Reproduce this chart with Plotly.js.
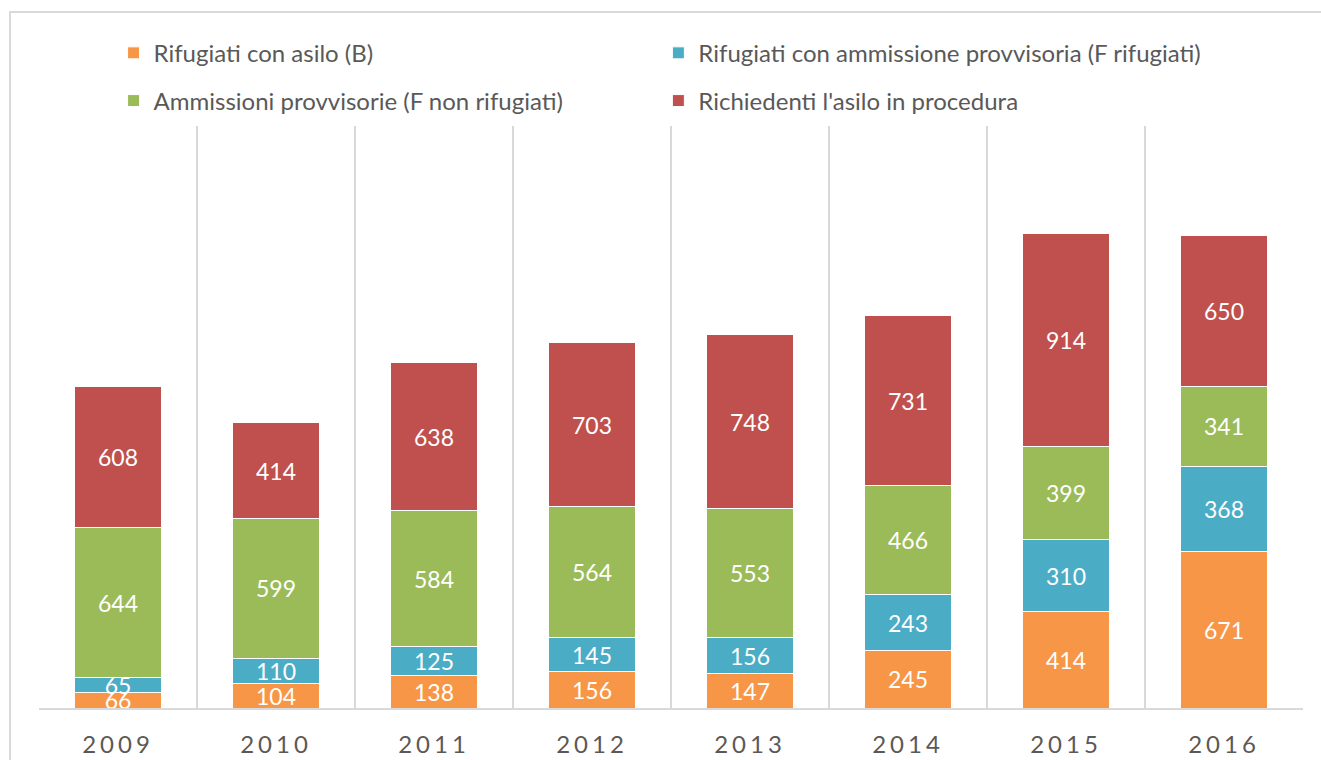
<!DOCTYPE html>
<html>
<head>
<meta charset="utf-8">
<script src="https://cdn.plot.ly/plotly-3.0.1.min.js"></script>
<style>
  html, body { margin: 0; padding: 0; background: #ffffff; overflow: hidden; }
  #frame { position: absolute; left: 9px; top: 11px; width: 1400px; height: 900px; border: 2px solid #d9d9d9; box-sizing: border-box; }
  #chart { position: absolute; left: 0; top: 0; width: 1321px; height: 760px; }
  .xaxislayer-above .xtick text { letter-spacing: 4px; }
</style>
</head>
<body>
<div id="frame"></div>
<div id="chart"></div>
<script>
const years = ['2009', '2010', '2011', '2012', '2013', '2014', '2015', '2016'];
const rifugiatiAsilo = [66, 104, 138, 156, 147, 245, 414, 671];
const rifugiatiAmmissione = [65, 110, 125, 145, 156, 243, 310, 368];
const ammissioniProvvisorie = [644, 599, 584, 564, 553, 466, 399, 341];
const richiedentiAsilo = [608, 414, 638, 703, 748, 731, 914, 650];
const seriesNames = [
  'Rifugiati con asilo (B)',
  'Rifugiati con ammissione provvisoria (F rifugiati)',
  'Ammissioni provvisorie (F non rifugiati)',
  "Richiedenti l'asilo in procedura"
];
const colors = ['#F79646', '#4BACC6', '#9BBB59', '#C0504D'];
const seriesValues = [rifugiatiAsilo, rifugiatiAmmissione, ammissioniProvvisorie, richiedentiAsilo];
const legendIds = ['legend', 'legend2', 'legend3', 'legend4'];

const FONT = 'Lato, "Open Sans", sans-serif';

const traces = seriesValues.map((vals, i) => ({
  type: 'bar',
  name: seriesNames[i],
  x: years,
  y: vals,
  text: vals.map(String),
  textposition: 'inside',
  insidetextanchor: 'middle',
  textangle: 0,
  constraintext: 'none',
  cliponaxis: false,
  textfont: { family: FONT, size: 23, color: '#ffffff' },
  marker: { color: colors[i], line: { color: '#ffffff', width: 1 } },
  legend: legendIds[i],
  hoverinfo: 'x+y+name'
}));

const legendCommon = {
  orientation: 'h',
  xanchor: 'left',
  yanchor: 'middle',
  traceorder: 'normal',
  font: { family: FONT, size: 24, color: '#595959' },
  bgcolor: 'rgba(0,0,0,0)',
  itemclick: false,
  itemdoubleclick: false
};

const layout = {
  width: 1321,
  height: 760,
  margin: { l: 39, r: 18, t: 126, b: 52 },
  paper_bgcolor: 'rgba(0,0,0,0)',
  plot_bgcolor: 'rgba(0,0,0,0)',
  barmode: 'stack',
  bargap: 0.45,
  showlegend: true,
  uniformtext: { mode: 'show', minsize: 23 },
  legend: Object.assign({}, legendCommon, { x: 0.059, y: 1.125 }),
  legend2: Object.assign({}, legendCommon, { x: 0.490, y: 1.125 }),
  legend3: Object.assign({}, legendCommon, { x: 0.059, y: 1.043 }),
  legend4: Object.assign({}, legendCommon, { x: 0.490, y: 1.043 }),
  xaxis: {
    type: 'category',
    tickson: 'boundaries',
    showgrid: true,
    gridcolor: '#d9d9d9',
    gridwidth: 2,
    showline: true,
    linecolor: '#d9d9d9',
    linewidth: 2,
    ticks: '',
    ticklabelstandoff: 14,
    tickfont: { family: FONT, size: 24, color: '#595959' },
    fixedrange: true
  },
  yaxis: {
    range: [0, 2500],
    showgrid: false,
    zeroline: false,
    showticklabels: false,
    showline: false,
    ticks: '',
    fixedrange: true
  }
};

Plotly.newPlot('chart', traces, layout, { displayModeBar: false, staticPlot: false });
</script>
</body>
</html>
